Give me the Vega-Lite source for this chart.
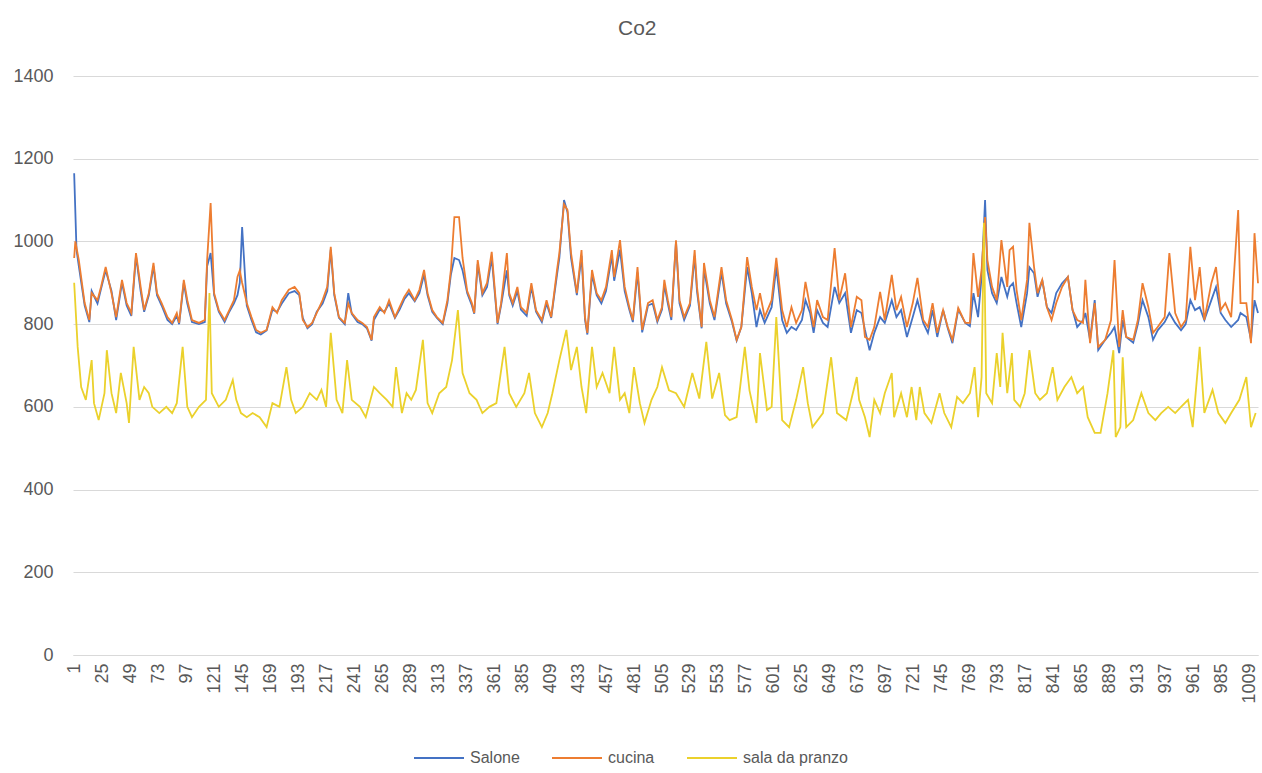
{
  "$schema": "https://vega.github.io/schema/vega-lite/v6.json",
  "autosize": {"type": "none"},
  "width": 1185,
  "height": 579,
  "padding": {"left": 73, "top": 76, "right": 4, "bottom": 118},
  "background": "white",
  "title": {"text": "Co2", "fontSize": 21, "font": "Liberation Sans", "fontWeight": "normal", "color": "#595959", "anchor": "middle", "frame": "bounds", "offset": 28},
  "config": {
    "view": {"stroke": null},
    "axis": {"labelFont": "Liberation Sans", "labelColor": "#595959", "gridColor": "#D9D9D9", "gridWidth": 1.2, "ticks": false, "title": null},
    "line": {"strokeWidth": 1.8}
  },
  "datasets": {
    "salone": [
      {"i":1,"v":1165},{"i":3,"v":980},{"i":5,"v":940},{"i":10,"v":845},{"i":14,"v":805},{"i":16,"v":880},{"i":21,"v":850},{"i":24,"v":885},{"i":28,"v":930},{"i":33,"v":880},{"i":37,"v":810},{"i":42,"v":900},{"i":46,"v":845},{"i":50,"v":820},{"i":54,"v":965},{"i":58,"v":880},{"i":61,"v":830},{"i":65,"v":870},{"i":69,"v":940},{"i":72,"v":870},{"i":76,"v":845},{"i":81,"v":810},{"i":85,"v":800},{"i":89,"v":820},{"i":91,"v":800},{"i":95,"v":900},{"i":98,"v":850},{"i":102,"v":805},{"i":108,"v":800},{"i":113,"v":805},{"i":115,"v":940},{"i":118,"v":972},{"i":121,"v":870},{"i":125,"v":830},{"i":130,"v":805},{"i":134,"v":830},{"i":138,"v":850},{"i":141,"v":870},{"i":143,"v":900},{"i":145,"v":1035},{"i":149,"v":845},{"i":153,"v":810},{"i":157,"v":780},{"i":161,"v":775},{"i":166,"v":785},{"i":171,"v":835},{"i":175,"v":830},{"i":179,"v":850},{"i":185,"v":875},{"i":190,"v":880},{"i":194,"v":870},{"i":197,"v":815},{"i":201,"v":790},{"i":205,"v":800},{"i":209,"v":830},{"i":214,"v":850},{"i":218,"v":880},{"i":221,"v":980},{"i":224,"v":870},{"i":228,"v":815},{"i":233,"v":800},{"i":236,"v":875},{"i":239,"v":825},{"i":244,"v":805},{"i":248,"v":800},{"i":252,"v":790},{"i":256,"v":760},{"i":258,"v":810},{"i":263,"v":835},{"i":267,"v":830},{"i":271,"v":850},{"i":276,"v":815},{"i":280,"v":835},{"i":284,"v":860},{"i":288,"v":875},{"i":293,"v":855},{"i":297,"v":875},{"i":301,"v":920},{"i":304,"v":870},{"i":308,"v":830},{"i":312,"v":815},{"i":317,"v":800},{"i":321,"v":850},{"i":324,"v":920},{"i":327,"v":960},{"i":331,"v":955},{"i":334,"v":930},{"i":338,"v":875},{"i":342,"v":845},{"i":344,"v":825},{"i":347,"v":945},{"i":351,"v":870},{"i":355,"v":890},{"i":359,"v":960},{"i":364,"v":800},{"i":367,"v":845},{"i":372,"v":930},{"i":374,"v":870},{"i":377,"v":845},{"i":381,"v":880},{"i":384,"v":835},{"i":389,"v":820},{"i":393,"v":890},{"i":397,"v":830},{"i":402,"v":805},{"i":406,"v":850},{"i":410,"v":815},{"i":415,"v":920},{"i":417,"v":960},{"i":421,"v":1100},{"i":424,"v":1070},{"i":427,"v":960},{"i":432,"v":870},{"i":436,"v":965},{"i":439,"v":810},{"i":441,"v":775},{"i":445,"v":920},{"i":449,"v":870},{"i":453,"v":850},{"i":457,"v":880},{"i":462,"v":965},{"i":464,"v":905},{"i":469,"v":980},{"i":473,"v":880},{"i":477,"v":835},{"i":480,"v":805},{"i":484,"v":925},{"i":488,"v":780},{"i":493,"v":845},{"i":497,"v":850},{"i":501,"v":805},{"i":505,"v":835},{"i":507,"v":895},{"i":510,"v":850},{"i":513,"v":810},{"i":517,"v":1000},{"i":520,"v":850},{"i":524,"v":810},{"i":529,"v":845},{"i":533,"v":965},{"i":535,"v":880},{"i":539,"v":790},{"i":541,"v":935},{"i":546,"v":850},{"i":550,"v":810},{"i":556,"v":925},{"i":560,"v":850},{"i":565,"v":805},{"i":569,"v":760},
      {"i":573,"v":793},{"i":578,"v":938},{"i":582,"v":875},{"i":586,"v":793},{"i":589,"v":834},{"i":593,"v":803},{"i":599,"v":841},{"i":603,"v":938},{"i":608,"v":810},{"i":612,"v":779},{"i":616,"v":793},{"i":620,"v":786},{"i":625,"v":810},{"i":628,"v":858},{"i":632,"v":827},{"i":635,"v":779},{"i":638,"v":834},{"i":643,"v":803},{"i":647,"v":793},{"i":653,"v":890},{"i":657,"v":851},{"i":662,"v":875},{"i":667,"v":779},{"i":672,"v":834},{"i":676,"v":827},{"i":679,"v":786},{"i":683,"v":737},{"i":687,"v":779},{"i":692,"v":817},{"i":696,"v":803},{"i":702,"v":858},{"i":706,"v":817},{"i":710,"v":834},{"i":715,"v":769},{"i":720,"v":817},{"i":724,"v":858},{"i":729,"v":803},{"i":733,"v":779},{"i":737,"v":834},{"i":741,"v":769},{"i":746,"v":834},{"i":750,"v":790},{"i":754,"v":754},{"i":759,"v":835},{"i":765,"v":803},{"i":769,"v":795},{"i":772,"v":875},{"i":776,"v":817},{"i":779,"v":914},{"i":782,"v":1100},{"i":784,"v":931},{"i":788,"v":875},{"i":792,"v":851},{"i":796,"v":914},{"i":801,"v":866},{"i":803,"v":890},{"i":806,"v":899},{"i":809,"v":851},{"i":813,"v":793},{"i":818,"v":875},{"i":820,"v":938},{"i":824,"v":923},{"i":827,"v":866},{"i":831,"v":907},{"i":835,"v":841},{"i":839,"v":827},{"i":843,"v":875},{"i":848,"v":899},{"i":853,"v":914},{"i":857,"v":834},{"i":861,"v":793},{"i":866,"v":810},{"i":868,"v":827},{"i":872,"v":762},{"i":876,"v":858},{"i":879,"v":737},{"i":885,"v":762},{"i":890,"v":779},{"i":893,"v":793},{"i":897,"v":730},{"i":900,"v":810},{"i":903,"v":769},{"i":909,"v":755},{"i":913,"v":800},{"i":917,"v":858},{"i":922,"v":817},{"i":926,"v":762},{"i":930,"v":785},{"i":936,"v":805},{"i":940,"v":827},{"i":945,"v":803},{"i":950,"v":785},{"i":954,"v":800},{"i":958,"v":858},{"i":962,"v":834},{"i":966,"v":841},{"i":970,"v":810},{"i":976,"v":858},{"i":980,"v":890},{"i":984,"v":827},{"i":988,"v":810},{"i":993,"v":793},{"i":999,"v":810},{"i":1001,"v":827},{"i":1006,"v":817},{"i":1010,"v":762},{"i":1013,"v":858},{"i":1016,"v":827}
    ],
    "cucina": [
      {"i":1,"v":960},{"i":2,"v":1000},{"i":5,"v":955},{"i":10,"v":851},{"i":14,"v":810},{"i":16,"v":875},{"i":21,"v":858},{"i":24,"v":890},{"i":28,"v":938},{"i":33,"v":875},{"i":37,"v":817},{"i":42,"v":907},{"i":46,"v":851},{"i":50,"v":827},{"i":54,"v":972},{"i":58,"v":890},{"i":61,"v":834},{"i":65,"v":875},{"i":69,"v":948},{"i":72,"v":875},{"i":76,"v":851},{"i":81,"v":817},{"i":85,"v":803},{"i":89,"v":827},{"i":91,"v":803},{"i":95,"v":907},{"i":98,"v":858},{"i":102,"v":810},{"i":108,"v":803},{"i":113,"v":810},{"i":115,"v":955},{"i":118,"v":1093},{"i":121,"v":875},{"i":125,"v":834},{"i":130,"v":810},{"i":134,"v":834},{"i":138,"v":858},{"i":141,"v":914},{"i":143,"v":930},{"i":145,"v":900},{"i":149,"v":851},{"i":153,"v":817},{"i":157,"v":786},{"i":161,"v":779},{"i":166,"v":786},{"i":171,"v":841},{"i":175,"v":827},{"i":179,"v":858},{"i":185,"v":883},{"i":190,"v":890},{"i":194,"v":875},{"i":197,"v":810},{"i":201,"v":793},{"i":205,"v":803},{"i":209,"v":827},{"i":214,"v":858},{"i":218,"v":890},{"i":221,"v":987},{"i":224,"v":875},{"i":228,"v":817},{"i":233,"v":803},{"i":236,"v":850},{"i":239,"v":827},{"i":244,"v":810},{"i":248,"v":803},{"i":252,"v":793},{"i":256,"v":762},{"i":258,"v":817},{"i":263,"v":841},{"i":267,"v":827},{"i":271,"v":858},{"i":276,"v":817},{"i":280,"v":841},{"i":284,"v":866},{"i":288,"v":883},{"i":293,"v":858},{"i":297,"v":883},{"i":301,"v":931},{"i":304,"v":875},{"i":308,"v":834},{"i":312,"v":817},{"i":317,"v":803},{"i":321,"v":858},{"i":324,"v":931},{"i":327,"v":1059},{"i":331,"v":1059},{"i":334,"v":960},{"i":338,"v":880},{"i":342,"v":851},{"i":344,"v":827},{"i":347,"v":955},{"i":351,"v":875},{"i":355,"v":900},{"i":359,"v":975},{"i":364,"v":803},{"i":367,"v":850},{"i":372,"v":972},{"i":374,"v":875},{"i":377,"v":851},{"i":381,"v":890},{"i":384,"v":841},{"i":389,"v":827},{"i":393,"v":899},{"i":397,"v":834},{"i":402,"v":810},{"i":406,"v":858},{"i":410,"v":817},{"i":415,"v":931},{"i":417,"v":972},{"i":421,"v":1090},{"i":424,"v":1076},{"i":427,"v":972},{"i":432,"v":875},{"i":436,"v":979},{"i":439,"v":817},{"i":441,"v":779},{"i":445,"v":931},{"i":449,"v":875},{"i":453,"v":858},{"i":457,"v":890},{"i":462,"v":979},{"i":464,"v":914},{"i":469,"v":1003},{"i":473,"v":890},{"i":477,"v":841},{"i":480,"v":810},{"i":484,"v":938},{"i":488,"v":786},{"i":493,"v":851},{"i":497,"v":858},{"i":501,"v":810},{"i":505,"v":841},{"i":507,"v":907},{"i":510,"v":858},{"i":513,"v":817},{"i":517,"v":1003},{"i":520,"v":858},{"i":524,"v":817},{"i":529,"v":851},{"i":533,"v":979},{"i":535,"v":890},{"i":539,"v":793},{"i":541,"v":948},{"i":546,"v":858},{"i":550,"v":817},{"i":556,"v":938},{"i":560,"v":858},{"i":565,"v":810},{"i":569,"v":762},
      {"i":573,"v":793},{"i":578,"v":962},{"i":582,"v":890},{"i":586,"v":834},{"i":589,"v":875},{"i":593,"v":817},{"i":599,"v":858},{"i":603,"v":960},{"i":608,"v":834},{"i":612,"v":793},{"i":616,"v":841},{"i":620,"v":803},{"i":625,"v":834},{"i":628,"v":902},{"i":632,"v":841},{"i":635,"v":793},{"i":638,"v":858},{"i":643,"v":817},{"i":647,"v":810},{"i":653,"v":984},{"i":657,"v":858},{"i":662,"v":923},{"i":667,"v":793},{"i":672,"v":866},{"i":676,"v":858},{"i":679,"v":769},{"i":683,"v":762},{"i":687,"v":793},{"i":692,"v":878},{"i":696,"v":810},{"i":702,"v":919},{"i":706,"v":834},{"i":710,"v":866},{"i":715,"v":793},{"i":720,"v":851},{"i":724,"v":912},{"i":729,"v":810},{"i":733,"v":793},{"i":737,"v":851},{"i":741,"v":779},{"i":746,"v":834},{"i":750,"v":793},{"i":754,"v":762},{"i":759,"v":839},{"i":765,"v":803},{"i":769,"v":803},{"i":772,"v":972},{"i":776,"v":866},{"i":779,"v":931},{"i":782,"v":1059},{"i":784,"v":955},{"i":788,"v":890},{"i":792,"v":858},{"i":796,"v":1003},{"i":801,"v":890},{"i":803,"v":979},{"i":806,"v":987},{"i":809,"v":883},{"i":813,"v":810},{"i":818,"v":907},{"i":820,"v":1045},{"i":824,"v":938},{"i":827,"v":875},{"i":831,"v":907},{"i":835,"v":841},{"i":839,"v":810},{"i":843,"v":851},{"i":848,"v":890},{"i":853,"v":914},{"i":857,"v":834},{"i":861,"v":810},{"i":866,"v":803},{"i":868,"v":907},{"i":872,"v":754},{"i":876,"v":851},{"i":879,"v":745},{"i":885,"v":762},{"i":890,"v":810},{"i":893,"v":955},{"i":897,"v":745},{"i":900,"v":834},{"i":903,"v":769},{"i":909,"v":762},{"i":913,"v":810},{"i":917,"v":899},{"i":922,"v":841},{"i":926,"v":779},{"i":930,"v":793},{"i":936,"v":817},{"i":940,"v":972},{"i":945,"v":827},{"i":950,"v":793},{"i":954,"v":810},{"i":958,"v":987},{"i":962,"v":858},{"i":966,"v":938},{"i":970,"v":810},{"i":976,"v":899},{"i":980,"v":938},{"i":984,"v":834},{"i":988,"v":851},{"i":993,"v":817},{"i":999,"v":1076},{"i":1001,"v":851},{"i":1006,"v":851},{"i":1010,"v":754},{"i":1013,"v":1020},{"i":1016,"v":899}
    ],
    "pranzo": [
      {"i":1,"v":900},{"i":4,"v":745},{"i":7,"v":648},{"i":11,"v":617},{"i":16,"v":713},{"i":18,"v":609},{"i":22,"v":568},{"i":27,"v":633},{"i":29,"v":737},{"i":33,"v":633},{"i":37,"v":585},{"i":41,"v":682},{"i":46,"v":609},{"i":48,"v":561},{"i":52,"v":745},{"i":57,"v":617},{"i":61,"v":648},{"i":65,"v":633},{"i":68,"v":600},{"i":74,"v":585},{"i":80,"v":600},{"i":85,"v":585},{"i":89,"v":609},{"i":94,"v":745},{"i":98,"v":600},{"i":102,"v":575},{"i":108,"v":600},{"i":114,"v":617},{"i":117,"v":875},{"i":119,"v":633},{"i":125,"v":600},{"i":131,"v":617},{"i":137,"v":665},{"i":140,"v":617},{"i":144,"v":585},{"i":149,"v":575},{"i":154,"v":585},{"i":160,"v":575},{"i":166,"v":551},{"i":171,"v":609},{"i":177,"v":600},{"i":183,"v":696},{"i":187,"v":617},{"i":191,"v":585},{"i":197,"v":600},{"i":203,"v":633},{"i":209,"v":617},{"i":213,"v":641},{"i":217,"v":600},{"i":221,"v":779},{"i":226,"v":617},{"i":231,"v":585},{"i":235,"v":713},{"i":239,"v":617},{"i":246,"v":600},{"i":251,"v":575},{"i":258,"v":648},{"i":263,"v":633},{"i":269,"v":617},{"i":274,"v":600},{"i":277,"v":696},{"i":282,"v":585},{"i":286,"v":633},{"i":290,"v":617},{"i":294,"v":641},{"i":300,"v":762},{"i":304,"v":609},{"i":308,"v":585},{"i":314,"v":633},{"i":320,"v":648},{"i":325,"v":713},{"i":330,"v":834},{"i":334,"v":682},{"i":340,"v":633},{"i":346,"v":617},{"i":351,"v":585},{"i":357,"v":600},{"i":363,"v":609},{"i":370,"v":745},{"i":374,"v":633},{"i":380,"v":600},{"i":387,"v":633},{"i":391,"v":682},{"i":396,"v":585},{"i":402,"v":551},{"i":407,"v":585},{"i":411,"v":633},{"i":417,"v":713},{"i":423,"v":786},{"i":427,"v":689},{"i":432,"v":745},{"i":436,"v":648},{"i":440,"v":585},{"i":445,"v":745},{"i":449,"v":648},{"i":454,"v":682},{"i":460,"v":633},{"i":464,"v":745},{"i":469,"v":617},{"i":473,"v":633},{"i":477,"v":585},{"i":481,"v":696},{"i":486,"v":609},{"i":490,"v":561},{"i":496,"v":617},{"i":501,"v":648},{"i":505,"v":696},{"i":511,"v":640},{"i":517,"v":633},{"i":524,"v":600},{"i":531,"v":682},{"i":537,"v":620},{"i":543,"v":757},{"i":548,"v":620},{"i":554,"v":682},{"i":559,"v":580},{"i":563,"v":568},{"i":569,"v":575},{"i":576,"v":745},{"i":580,"v":640},{"i":586,"v":561},{"i":589,"v":730},{"i":595,"v":592},{"i":599,"v":600},{"i":603,"v":817},{"i":608,"v":568},{"i":614,"v":551},{"i":620,"v":617},{"i":626,"v":696},{"i":630,"v":609},{"i":634,"v":551},{"i":643,"v":585},{"i":650,"v":720},{"i":655,"v":585},{"i":663,"v":568},{"i":672,"v":672},{"i":674,"v":617},{"i":679,"v":575},{"i":683,"v":527},{"i":687,"v":617},{"i":692,"v":585},{"i":696,"v":633},{"i":702,"v":682},{"i":704,"v":575},{"i":710,"v":633},{"i":715,"v":575},{"i":719,"v":648},{"i":723,"v":568},{"i":726,"v":648},{"i":730,"v":585},{"i":736,"v":561},{"i":743,"v":633},{"i":747,"v":585},{"i":753,"v":551},{"i":758,"v":624},{"i":763,"v":609},{"i":769,"v":633},{"i":773,"v":696},{"i":776,"v":575},{"i":779,"v":672},{"i":781,"v":1045},{"i":783,"v":633},{"i":788,"v":609},{"i":792,"v":730},{"i":795,"v":648},{"i":797,"v":779},{"i":801,"v":633},{"i":805,"v":730},{"i":807,"v":617},{"i":812,"v":600},{"i":816,"v":633},{"i":820,"v":737},{"i":825,"v":633},{"i":829,"v":617},{"i":835,"v":633},{"i":840,"v":696},{"i":844,"v":617},{"i":850,"v":648},{"i":856,"v":672},{"i":861,"v":633},{"i":866,"v":648},{"i":870,"v":575},{"i":876,"v":537},{"i":881,"v":537},{"i":887,"v":633},{"i":892,"v":737},{"i":894,"v":527},{"i":898,"v":551},{"i":900,"v":720},{"i":903,"v":551},{"i":909,"v":568},{"i":916,"v":633},{"i":922,"v":585},{"i":928,"v":568},{"i":933,"v":585},{"i":939,"v":600},{"i":945,"v":585},{"i":950,"v":600},{"i":956,"v":617},{"i":960,"v":551},{"i":966,"v":745},{"i":970,"v":585},{"i":977,"v":641},{"i":982,"v":585},{"i":988,"v":561},{"i":993,"v":585},{"i":1000,"v":617},{"i":1006,"v":672},{"i":1010,"v":551},{"i":1014,"v":585}
    ]
  },
  "encoding": {
    "x": {"field": "i", "type": "quantitative", "scale": {"domain": [0, 1016], "nice": false, "zero": false},
          "axis": {"values": [1,25,49,73,97,121,145,169,193,217,241,265,289,313,337,361,385,409,433,457,481,505,529,553,577,601,625,649,673,697,721,745,769,793,817,841,865,889,913,937,961,985,1009], "labelAngle": -90, "labelFontSize": 18, "labelPadding": 8, "grid": false, "domain": true, "domainColor": "#D9D9D9", "domainWidth": 1.2, "labelOverlap": false, "labelSeparation": 0, "labelBound": false, "format": "d"}},
    "y": {"field": "v", "type": "quantitative", "scale": {"domain": [0, 1400], "nice": false},
          "axis": {"values": [0,200,400,600,800,1000,1200,1400], "labelFontSize": 18, "labelPadding": 20, "domain": false, "grid": true, "format": "d"}}
  },
  "layer": [
    {
      "data": {"name": "salone"},
      "mark": {"type": "line"},
      "encoding": {
        "color": {"datum": "Salone", "type": "nominal",
                  "scale": {"domain": ["Salone", "cucina", "sala da pranzo"], "range": ["#4472C4", "#ED7D31", "#EBD12C"]},
                  "legend": {"orient": "none", "direction": "horizontal", "legendX": 340, "legendY": 656, "title": null, "symbolType": "stroke", "symbolSize": 2500, "symbolStrokeWidth": 1.8, "labelFont": "Liberation Sans", "labelFontSize": 16, "labelColor": "#595959", "columnPadding": 28, "labelOffset": 5, "labelBaseline": "middle"}}
      }
    },
    {
      "data": {"name": "cucina"},
      "mark": {"type": "line"},
      "encoding": {"color": {"datum": "cucina", "type": "nominal"}}
    },
    {
      "data": {"name": "pranzo"},
      "mark": {"type": "line"},
      "encoding": {"color": {"datum": "sala da pranzo", "type": "nominal"}}
    }
  ]
}
